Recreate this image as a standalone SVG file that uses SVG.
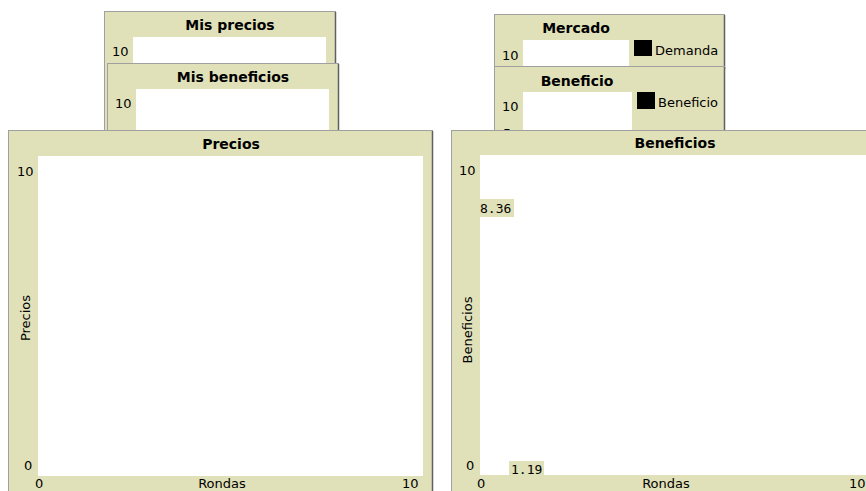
<svg xmlns="http://www.w3.org/2000/svg" width="866" height="491" viewBox="0 0 866 491">
<style>
.frame{fill:#E0E0B9;stroke:#A0A0A0;stroke-width:1}
.shadow{fill:none;stroke:#606060;stroke-width:1.5}
.plot{fill:#FFFFFF}
.title{font-family:"DejaVu Sans",Verdana,sans-serif;font-size:14px;font-weight:bold;fill:#000;text-anchor:middle}
.lbl{font-family:"DejaVu Sans",Verdana,sans-serif;font-size:13px;fill:#000}
.mono{font-family:"DejaVu Sans Mono","Liberation Mono",monospace;font-size:13px;fill:#000}
.tag{fill:#E0E0B9}
</style>
<rect width="866" height="491" fill="#FFFFFF"/>
<g id="mis-precios">
<rect class="frame" x="104.5" y="11.5" width="231" height="125"/>
<path class="shadow" d="M335.5 12 V136"/>
<rect class="plot" x="133" y="37" width="193" height="100"/>
<text class="title" x="230" y="30">Mis precios</text>
<text class="lbl" x="112" y="56">10</text>
</g>
<g id="mis-beneficios">
<rect class="frame" x="107.5" y="63.5" width="231" height="70"/>
<path class="shadow" d="M338.5 64 V134"/>
<rect class="plot" x="136" y="89" width="193" height="45"/>
<text class="title" x="233" y="82">Mis beneficios</text>
<text class="lbl" x="115" y="108">10</text>
</g>
<g id="mercado">
<rect class="frame" x="494.5" y="14.5" width="230" height="55"/>
<path class="shadow" d="M724.5 15 V69"/>
<rect class="plot" x="523" y="40" width="106" height="26"/>
<text class="title" x="576" y="33">Mercado</text>
<text class="lbl" x="502" y="60">10</text>
<rect x="634" y="40" width="18" height="16" fill="#000"/>
<text class="lbl" x="655" y="55">Demanda</text>
</g>
<g id="beneficio">
<rect class="frame" x="494.5" y="66.5" width="230" height="65"/>
<path class="shadow" d="M724.5 67 V131"/>
<rect class="plot" x="523" y="92" width="109" height="40"/>
<text class="title" x="577" y="86">Beneficio</text>
<text class="lbl" x="502" y="111">10</text>
<text class="lbl" x="503" y="138">5</text>
<rect x="637" y="92" width="18" height="17" fill="#000"/>
<text class="lbl" x="658" y="107">Beneficio</text>
</g>
<g id="precios">
<rect class="frame" x="8.5" y="130.5" width="424" height="366"/>
<path class="shadow" d="M432.5 131 V491"/>
<rect class="plot" x="38" y="156" width="385" height="320"/>
<text class="title" x="231" y="149">Precios</text>
<text class="lbl" x="17" y="176">10</text>
<text class="lbl" x="24" y="470">0</text>
<text class="lbl" x="35" y="488">0</text>
<text class="lbl" x="222" y="488" text-anchor="middle">Rondas</text>
<text class="lbl" x="402" y="488">10</text>
<text class="lbl" transform="translate(30 318) rotate(-90)" text-anchor="middle">Precios</text>
</g>
<g id="beneficios">
<rect class="frame" x="451.5" y="130.5" width="430" height="366"/>
<rect class="plot" x="480" y="155" width="390" height="320"/>
<text class="title" x="675" y="148">Beneficios</text>
<text class="lbl" x="459" y="175">10</text>
<text class="lbl" x="466" y="470">0</text>
<text class="lbl" x="477" y="488">0</text>
<text class="lbl" x="666" y="488" text-anchor="middle">Rondas</text>
<text class="lbl" x="849" y="488">10</text>
<text class="lbl" transform="translate(472 330) rotate(-90)" text-anchor="middle">Beneficios</text>
<rect class="tag" x="479" y="199" width="35" height="18"/>
<text class="mono" x="480" y="213">8.36</text>
<rect class="tag" x="509" y="461" width="35" height="15"/>
<text class="mono" x="511" y="474">1.19</text>
</g>
</svg>
